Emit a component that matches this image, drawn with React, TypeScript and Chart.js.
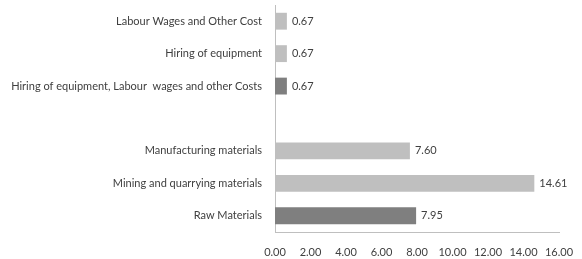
import React, { useEffect, useRef } from "react";
import { Chart, registerables } from "chart.js";

Chart.register(...registerables);

const categories = [
  "Labour Wages and Other Cost",
  "Hiring of equipment",
  "Hiring of equipment, Labour  wages and other Costs",
  "",
  "Manufacturing materials",
  "Mining and quarrying materials",
  "Raw Materials",
];
const values: (number | null)[] = [0.67, 0.67, 0.67, null, 7.6, 14.61, 7.95];
const barColors = ["#bfbfbf", "#bfbfbf", "#7f7f7f", "#bfbfbf", "#bfbfbf", "#bfbfbf", "#7f7f7f"];
const xTicks = [0, 2, 4, 6, 8, 10, 12, 14, 16];

const FONT = "Lato";
const TEXT = "#404040";

const valueLabels = {
  id: "valueLabels",
  afterDatasetsDraw(chart: any) {
    const ctx = chart.ctx;
    const meta = chart.getDatasetMeta(0);
    ctx.save();
    ctx.font = `11px ${FONT}`;
    ctx.fillStyle = TEXT;
    ctx.textBaseline = "middle";
    ctx.textAlign = "left";
    meta.data.forEach((el: any, i: number) => {
      const v = values[i];
      if (v == null) return;
      ctx.fillText(v.toFixed(2), el.x + 5, el.y);
    });
    ctx.restore();
  },
};

export default function App() {
  const ref = useRef<HTMLCanvasElement>(null);
  useEffect(() => {
    document.body.style.margin = "0";
    const chart = new Chart(ref.current!, {
      type: "bar",
      data: {
        labels: categories,
        datasets: [
          {
            data: values,
            backgroundColor: barColors,
            barPercentage: 0.52,
            categoryPercentage: 1,
          },
        ],
      },
      options: {
        indexAxis: "y",
        animation: false,
        responsive: false,
        layout: { padding: { top: 5, right: 23, left: 0, bottom: 0 } },
        plugins: { legend: { display: false }, tooltip: { enabled: false } },
        scales: {
          x: {
            min: 0,
            max: 16,
            afterBuildTicks: (scale: any) => {
              scale.ticks = xTicks.map((v) => ({ value: v }));
            },
            afterFit: (scale: any) => {
              scale.height = 27;
              scale.paddingLeft = 0;
              scale.paddingRight = 0;
            },
            grid: { display: false, drawTicks: false },
            border: { display: true, color: "#bfbfbf", width: 1 },
            ticks: {
              padding: 14,
              color: TEXT,
              font: { family: FONT, size: 11 },
              maxRotation: 0,
              callback: (v: any) => Number(v).toFixed(2),
            },
          },
          y: {
            afterFit: (scale: any) => {
              scale.width = 275;
              scale.paddingTop = 0;
              scale.paddingBottom = 0;
            },
            grid: { display: false, drawTicks: false },
            border: { display: true, color: "#bfbfbf", width: 1 },
            ticks: {
              padding: 13,
              color: TEXT,
              font: { family: FONT, size: 11 },
              autoSkip: false,
            },
          },
        },
      },
      plugins: [valueLabels],
    });
    return () => chart.destroy();
  }, []);
  return <canvas ref={ref} width={582} height={259} style={{ display: "block" }} />;
}
